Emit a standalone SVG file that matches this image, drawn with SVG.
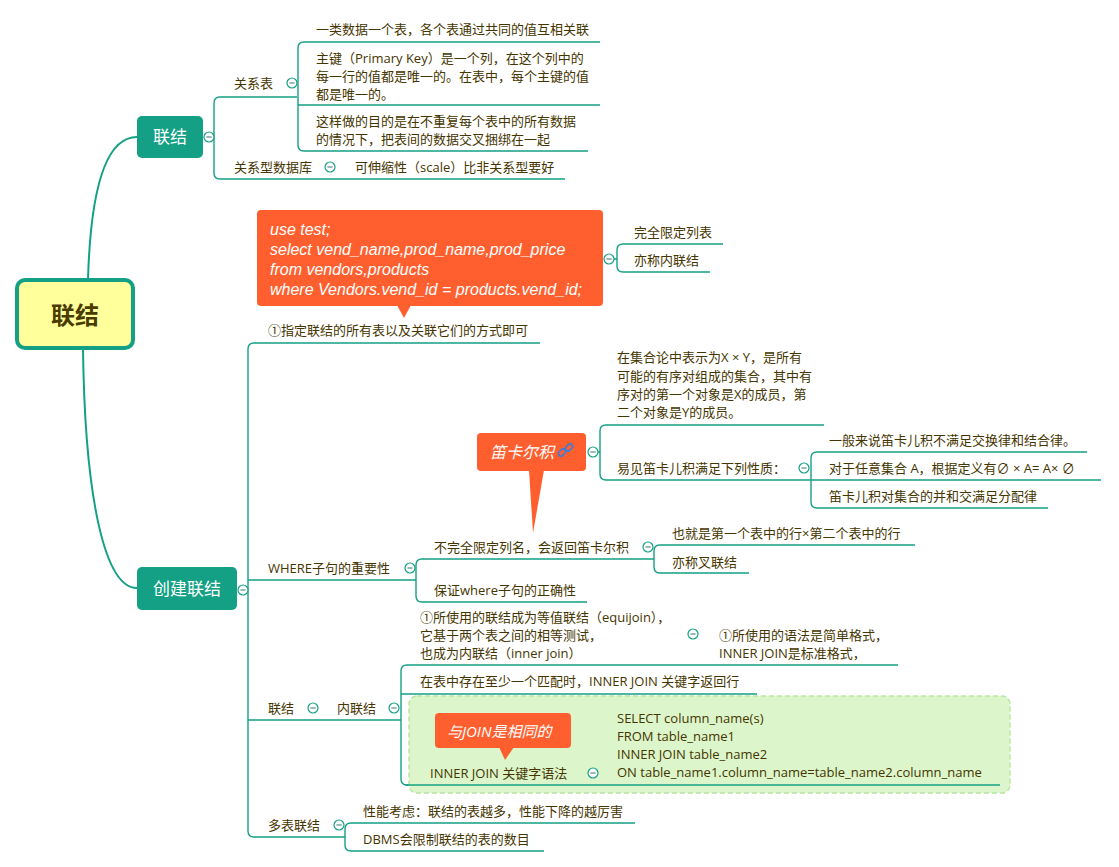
<svg xmlns="http://www.w3.org/2000/svg" xmlns:xlink="http://www.w3.org/1999/xlink" width="1119" height="867" viewBox="0 0 1119 867">
<style>
.t{font-family:"Open Sans","Noto Sans CJK SC",sans-serif;font-size:13px;fill:#453500}
.w{font-family:"Open Sans","Noto Sans CJK SC",sans-serif;fill:#ffffff}
.sq{font-family:"Liberation Sans",sans-serif;font-size:16px;font-style:italic;fill:#ffffff}
.it{font-style:italic}
.ln{fill:none;stroke:#14a085;stroke-width:1.4}
.br{fill:none;stroke:#14a085;stroke-width:2}
.nd{fill:#14a085}
.co{fill:#ff5f2e}
</style>
<defs>
<g id="col"><circle r="5" fill="#ffffff" stroke="#14a085" stroke-width="1.2"/><line x1="-2.6" y1="0" x2="2.6" y2="0" stroke="#5a8a80" stroke-width="1.2"/></g>
</defs>
<rect width="1119" height="867" fill="#ffffff"/>

<g id="connectors">
<path class="br" d="M88 280 Q92 137 137 137"/>
<path class="br" d="M83 349 C85 500 105 588 137 588"/>
<path class="ln" d="M297 97 L220 97 Q214 97 214 103 L214 173 Q214 179 220 179 L565 179"/>
<path class="ln" d="M600 42 L304 42 Q298 42 298 48 L298 145 Q298 151 304 151 L588 151 M298 105 L600 105"/>
<path class="ln" d="M614 259 L617 259 M723 244 L623 244 Q617 244 617 250 L617 266 Q617 272 623 272 L710 272"/>
<path class="ln" d="M540 343 L254 343 Q248 343 248 349 L248 831 Q248 837 254 837 L345 837 M248 580 L416 580 M248 720 L401 720"/>
<path class="ln" d="M653 559 L422 559 Q416 559 416 565 L416 596 Q416 602 422 602 L587 602"/>
<path class="ln" d="M915 545 L660 545 Q654 545 654 551 L654 567 Q654 573 660 573 L749 573 M654 559 L653 559"/>
<path class="ln" d="M598 452 L600 452 M824 425 L606 425 Q600 425 600 431 L600 474 Q600 480 606 480 L811 480"/>
<path class="ln" d="M1087 452 L817 452 Q811 452 811 458 L811 502 Q811 508 817 508 L1048 508 M811 480 L1101 480"/>
<path class="ln" d="M898 665 L407 665 Q401 665 401 671 L401 779 Q401 785 407 785 L412 785 M401 694 L757 694"/>
<path class="ln" d="M635 823 L351 823 Q345 823 345 829 L345 845 Q345 851 351 851 L544 851"/>
</g>

<g id="root">
<rect x="17" y="280" width="116" height="68" rx="8" fill="#ffff9c" stroke="#14a085" stroke-width="4"/>
<text x="75" y="324" text-anchor="middle" font-family="'Noto Sans CJK SC',sans-serif" font-size="24" font-weight="bold" fill="#4a3b00">联结</text>
</g>

<g id="n-lianjie">
<rect class="nd" x="137" y="116" width="66" height="42" rx="5"/>
<text class="w" x="170" y="143" text-anchor="middle" font-size="17">联结</text>
<use xlink:href="#col" x="209" y="137"/>
</g>

<g id="n-guanxibiao">
<text class="t" x="234" y="88">关系表</text>
<use xlink:href="#col" x="292" y="83"/>
</g>
<g id="n-gx1"><text class="t" x="316" y="34">一类数据一个表，各个表通过共同的值互相关联</text></g>
<g id="n-gx2">
<text class="t" x="316" y="63">主键（Primary Key）是一个列，在这个列中的</text>
<text class="t" x="316" y="81">每一行的值都是唯一的。在表中，每个主键的值</text>
<text class="t" x="316" y="99">都是唯一的。</text>
</g>
<g id="n-gx3">
<text class="t" x="316" y="126">这样做的目的是在不重复每个表中的所有数据</text>
<text class="t" x="316" y="144">的情况下，把表间的数据交叉捆绑在一起</text>
</g>
<g id="n-gxsjk">
<text class="t" x="234" y="172">关系型数据库</text>
<use xlink:href="#col" x="330" y="167"/>
</g>
<g id="n-scale"><text class="t" x="355" y="172">可伸缩性（scale）比非关系型要好</text></g>

<g id="n-chuangjian">
<rect class="nd" x="137" y="567" width="100" height="43" rx="5"/>
<text class="w" x="187" y="595" text-anchor="middle" font-size="17">创建联结</text>
<use xlink:href="#col" x="243" y="590"/>
</g>

<g id="callout-sql">
<rect class="co" x="257" y="210" width="346" height="96" rx="4"/>
<polygon class="co" points="397,305 411,305 404,318"/>
<text class="sq" x="270" y="235">use test;</text>
<text class="sq" x="270" y="255">select vend_name,prod_name,prod_price</text>
<text class="sq" x="270" y="275">from vendors,products</text>
<text class="sq" x="270" y="295">where Vendors.vend_id = products.vend_id;</text>
<use xlink:href="#col" x="609" y="259"/>
</g>
<g id="n-wqxd"><text class="t" x="634" y="237">完全限定列表</text></g>
<g id="n-ycnlj"><text class="t" x="634" y="265">亦称内联结</text></g>
<g id="n-zhiding"><text class="t" x="268" y="335">①指定联结的所有表以及关联它们的方式即可</text></g>

<g id="n-where">
<text class="t" x="268" y="573">WHERE子句的重要性</text>
<use xlink:href="#col" x="410" y="568"/>
</g>
<g id="n-bwq">
<text class="t" x="434" y="552">不完全限定列名，会返回笛卡尔积</text>
<use xlink:href="#col" x="648" y="547"/>
</g>
<g id="n-bz"><text class="t" x="434" y="595">保证where子句的正确性</text></g>
<g id="n-yjs"><text class="t" x="672" y="538">也就是第一个表中的行×第二个表中的行</text></g>
<g id="n-ycclj"><text class="t" x="672" y="567">亦称叉联结</text></g>

<g id="callout-dkr">
<rect class="co" x="477" y="433" width="109" height="38" rx="4"/>
<polygon class="co" points="529,470 544,470 533,533"/>
<text class="w it" font-size="16" x="490" y="458">笛卡尔积</text>
<g fill="none" stroke="#3b7ddd" stroke-width="1.6">
<rect x="558" y="450" width="8" height="5" rx="2.5" transform="rotate(-45 562 452.5)"/>
<rect x="565" y="445" width="8" height="5" rx="2.5" transform="rotate(-45 569 447.5)"/>
</g>
<use xlink:href="#col" x="593" y="452"/>
</g>
<g id="n-jihe">
<text class="t" x="617" y="362">在集合论中表示为X × Y，是所有</text>
<text class="t" x="617" y="381">可能的有序对组成的集合，其中有</text>
<text class="t" x="617" y="399">序对的第一个对象是X的成员，第</text>
<text class="t" x="617" y="417">二个对象是Y的成员。</text>
</g>
<g id="n-yijian">
<text class="t" x="617" y="473">易见笛卡儿积满足下列性质：</text>
<use xlink:href="#col" x="804" y="468"/>
</g>
<g id="n-p1"><text class="t" x="829" y="445">一般来说笛卡儿积不满足交换律和结合律。</text></g>
<g id="n-p2"><text class="t" x="829" y="473">对于任意集合 A，根据定义有∅ × A= A× ∅</text></g>
<g id="n-p3"><text class="t" x="829" y="501">笛卡儿积对集合的并和交满足分配律</text></g>

<g id="n-lj2">
<text class="t" x="268" y="713">联结</text>
<use xlink:href="#col" x="313" y="708"/>
</g>
<g id="n-nlj">
<text class="t" x="337" y="713">内联结</text>
<use xlink:href="#col" x="394" y="708"/>
</g>
<g id="n-equi">
<text class="t" x="420" y="622">①所使用的联结成为等值联结（equijoin），</text>
<text class="t" x="420" y="640">它基于两个表之间的相等测试，</text>
<text class="t" x="420" y="658">也成为内联结（inner join）</text>
<use xlink:href="#col" x="693" y="634"/>
</g>
<g id="n-yufa">
<text class="t" x="719" y="640">①所使用的语法是简单格式，</text>
<text class="t" x="719" y="658">INNER JOIN是标准格式，</text>
</g>
<g id="n-zaibiao"><text class="t" x="420" y="686">在表中存在至少一个匹配时，INNER JOIN 关键字返回行</text></g>
<g id="n-inner">
<rect x="409" y="696" width="601" height="97" rx="8" fill="#dcf5cb" stroke="#b9e6a2" stroke-width="1.5" stroke-dasharray="5,3"/>
<path class="ln" d="M405 785 L1000 785"/>
<text class="t" x="430" y="778">INNER JOIN 关键字语法</text>
<use xlink:href="#col" x="593" y="773"/>
<text class="t" x="617" y="723">SELECT column_name(s)</text>
<text class="t" x="617" y="741">FROM table_name1</text>
<text class="t" x="617" y="759">INNER JOIN table_name2</text>
<text class="t" x="617" y="777">ON table_name1.column_name=table_name2.column_name</text>
</g>
<g id="callout-join">
<rect class="co" x="435" y="713" width="136" height="35" rx="4"/>
<polygon class="co" points="499,747 514,747 505,760"/>
<text class="w it" font-size="15" x="447" y="737">与JOIN是相同的</text>
</g>

<g id="n-duobiao">
<text class="t" x="268" y="830">多表联结</text>
<use xlink:href="#col" x="339" y="825"/>
</g>
<g id="n-xn"><text class="t" x="363" y="816">性能考虑：联结的表越多，性能下降的越厉害</text></g>
<g id="n-dbms"><text class="t" x="363" y="844">DBMS会限制联结的表的数目</text></g>
</svg>
